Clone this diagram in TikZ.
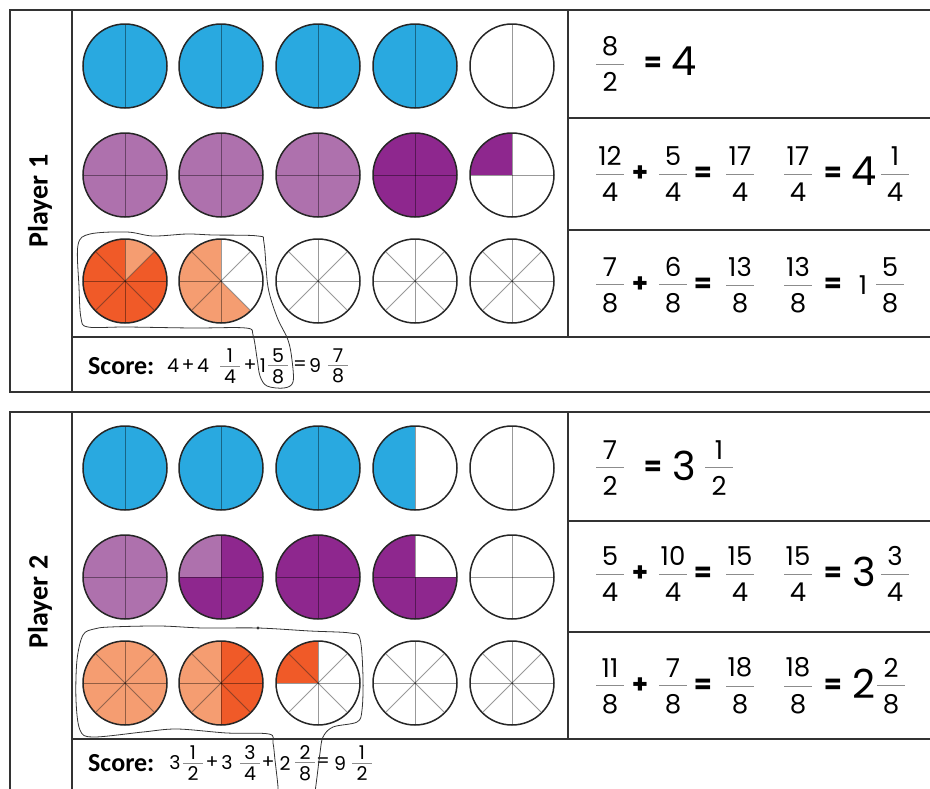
\documentclass[tikz,border=0pt]{standalone}
\usepackage{fontspec}
\newfontfamily\numfont{Poppins}
\newfontfamily\labfont{Carlito}
\usepackage{xcolor}
\definecolor{HalfBlue}{HTML}{29A9E0}
\definecolor{QuarterLight}{HTML}{AE71AD}
\definecolor{QuarterDark}{HTML}{8E278E}
\definecolor{EighthLight}{HTML}{F59D71}
\definecolor{EighthDark}{HTML}{F05A28}
\definecolor{BarGray}{HTML}{8C8C8C}
\usepackage{tikz}

% stacked fraction, grey bar
\newcommand{\fr}[3][.2em]{\shortstack{#2\\[#1]{\color{BarGray}\rule{1.05em}{.7pt}}\\[#1]#3}}
% fraction circle: centre, parts, colours (counter-clockwise from the top)
\newcommand{\wheel}[3]{%
  \foreach \c [count=\k] in {#3}
    \fill[\c] (#1) -- ++({90+(\k-1)*360/#2}:42) arc[start angle={90+(\k-1)*360/#2}, delta angle={360/#2}, radius=42] -- cycle;
  \foreach \k in {1,...,#2}
    \draw[spoke] (#1) -- ++({90+\k*360/#2}:42);
  \draw[rim] (#1) circle[radius=42];
}

\begin{document}
\begin{tikzpicture}[x=1pt,y=1pt,
    boxline/.style={draw=black!80,line width=1.4pt},
    rim/.style={draw=black!85,line width=1.5pt},
    spoke/.style={draw=black,draw opacity=0.4,line width=0.8pt},
    penline/.style={draw=black!80,line width=0.8pt},
    eqtext/.style={inner sep=0pt,font=\numfont\fontsize{26}{30}\selectfont},
    wholenum/.style={inner sep=0pt,font=\numfont\fontsize{40}{44}\selectfont},
    scoretext/.style={inner sep=0pt,font=\numfont\fontsize{19}{23}\selectfont},
    labtext/.style={inner sep=0pt,font=\labfont\bfseries\fontsize{26}{30}\selectfont}]
  \useasboundingbox (0,0) rectangle (930,-788);
  \clip (0,0) rectangle (930,-788);

  % player 1 board
  \draw[boxline] (935,-10) -| (10,-392) -- (935,-392);
  \draw[boxline] (72,-10) -- (72,-392);
  \draw[boxline] (72,-337) -- (935,-337);
  \draw[boxline] (568,-10) -- (568,-337);
  \draw[boxline] (568,-118) -- (935,-118) (568,-230) -- (935,-230);
  \node[labtext,rotate=90,font=\labfont\bfseries\fontsize{28}{32}\selectfont] (pl1) at (40,-201) {Player 1};

  \wheel{125,-66}{2}{HalfBlue,HalfBlue}
  \wheel{221,-66}{2}{HalfBlue,HalfBlue}
  \wheel{318,-66}{2}{HalfBlue,HalfBlue}
  \wheel{415,-66}{2}{HalfBlue,HalfBlue}
  \wheel{512,-66}{2}{white,white}
  \wheel{125,-175}{4}{QuarterLight,QuarterLight,QuarterLight,QuarterLight}
  \wheel{221,-175}{4}{QuarterLight,QuarterLight,QuarterLight,QuarterLight}
  \wheel{318,-175}{4}{QuarterLight,QuarterLight,QuarterLight,QuarterLight}
  \wheel{415,-175}{4}{QuarterDark,QuarterDark,QuarterDark,QuarterDark}
  \wheel{512,-175}{4}{QuarterDark,white,white,white}
  \wheel{125,-281}{8}{EighthDark,EighthDark,EighthDark,EighthDark,EighthDark,EighthDark,EighthDark,EighthLight}
  \wheel{221,-281}{8}{EighthLight,EighthLight,EighthLight,EighthLight,EighthLight,white,white,white}
  \wheel{318,-281}{8}{white,white,white,white,white,white,white,white}
  \wheel{415,-281}{8}{white,white,white,white,white,white,white,white}
  \wheel{512,-281}{8}{white,white,white,white,white,white,white,white}

  \foreach \x/\t [count=\i] in {610/{\fr{8}{2}},653/\textbf{=}}
    \node[eqtext] (a1-\i) at (\x,-64) {\t};
  \node[wholenum] (a1-w) at (684,-61) {4};
  \foreach \x/\t [count=\i] in {610/{\fr{12}{4}},640/\textbf{+},673/{\fr{5}{4}},703/\textbf{=},740/{\fr{17}{4}},798/{\fr{17}{4}},833/\textbf{=},895/{\fr{1}{4}}}
    \node[eqtext] (b1-\i) at (\x,-174) {\t};
  \node[wholenum] (b1-w) at (864,-171) {4};
  \foreach \x/\t [count=\i] in {610/{\fr{7}{8}},640/\textbf{+},673/{\fr{6}{8}},703/\textbf{=},740/{\fr{13}{8}},798/{\fr{13}{8}},833/\textbf{=},863/1,890/{\fr{5}{8}}}
    \node[eqtext] (c1-\i) at (\x,-285) {\t};

  \node[labtext,anchor=west] (sc1) at (88,-366) {Score:};
  \foreach \x/\t [count=\i] in {173/4,188/+,203/4,230/{\fr[0pt]{1}{4}},250/+,263/1,278/{\fr[0pt]{5}{8}},300/=,315/9,338/{\fr[0pt]{7}{8}}}
    \node[scoretext] (sc1-\i) at (\x,-366) {\t};

  \draw[penline] plot[smooth cycle,tension=0.55] coordinates {(78,-245) (90,-234) (127,-232) (153,-236) (187,-234) (213,-235) (258,-236) (264,-243) (268,-287) (277,-317) (288,-340) (292,-360) (293,-382) (284,-388) (267,-386) (260,-376) (257,-358) (253,-335) (246,-328) (193,-328) (127,-327) (88,-327) (81,-318) (79,-287)};

  % player 2 board
  \draw[boxline] (935,-412) -| (10,-800);
  \draw[boxline] (72,-412) -- (72,-800);
  \draw[boxline] (72,-739) -- (935,-739);
  \draw[boxline] (568,-412) -- (568,-739);
  \draw[boxline] (568,-521) -- (935,-521) (568,-632) -- (935,-632);
  \node[labtext,rotate=90,font=\labfont\bfseries\fontsize{28}{32}\selectfont] (pl2) at (40,-602) {Player 2};

  \wheel{125,-468}{2}{HalfBlue,HalfBlue}
  \wheel{221,-468}{2}{HalfBlue,HalfBlue}
  \wheel{318,-468}{2}{HalfBlue,HalfBlue}
  \wheel{415,-468}{2}{HalfBlue,white}
  \wheel{512,-468}{2}{white,white}
  \wheel{125,-577}{4}{QuarterLight,QuarterLight,QuarterLight,QuarterLight}
  \wheel{221,-577}{4}{QuarterLight,QuarterDark,QuarterDark,QuarterDark}
  \wheel{318,-577}{4}{QuarterDark,QuarterDark,QuarterDark,QuarterDark}
  \wheel{415,-577}{4}{QuarterDark,QuarterDark,QuarterDark,white}
  \wheel{512,-577}{4}{white,white,white,white}
  \wheel{125,-683}{8}{EighthLight,EighthLight,EighthLight,EighthLight,EighthLight,EighthLight,EighthLight,EighthLight}
  \wheel{221,-683}{8}{EighthLight,EighthLight,EighthLight,EighthLight,EighthDark,EighthDark,EighthDark,EighthDark}
  \wheel{318,-683}{8}{EighthDark,EighthDark,white,white,white,white,white,white}
  \wheel{415,-683}{8}{white,white,white,white,white,white,white,white}
  \wheel{512,-683}{8}{white,white,white,white,white,white,white,white}

  \foreach \x/\t [count=\i] in {610/{\fr{7}{2}},653/\textbf{=},719/{\fr{1}{2}}}
    \node[eqtext] (a2-\i) at (\x,-468) {\t};
  \node[wholenum] (a2-w) at (684,-466) {3};
  \foreach \x/\t [count=\i] in {610/{\fr{5}{4}},640/\textbf{+},673/{\fr{10}{4}},703/\textbf{=},740/{\fr{15}{4}},798/{\fr{15}{4}},833/\textbf{=},895/{\fr{3}{4}}}
    \node[eqtext] (b2-\i) at (\x,-574) {\t};
  \node[wholenum] (b2-w) at (864,-572) {3};
  \foreach \x/\t [count=\i] in {610/{\fr{11}{8}},640/\textbf{+},673/{\fr{7}{8}},703/\textbf{=},740/{\fr{18}{8}},798/{\fr{18}{8}},833/\textbf{=},891/{\fr{2}{8}}}
    \node[eqtext] (c2-\i) at (\x,-686) {\t};
  \node[wholenum] (c2-w) at (864,-684) {2};

  \node[labtext,anchor=west] (sc2) at (88,-763) {Score:};
  \foreach \x/\t [count=\i] in {175/3,193/{\fr[0pt]{1}{2}},212/+,227/3,250/{\fr[0pt]{3}{4}},268/+,285/2,305/{\fr[0pt]{2}{8}},323/=,340/9,362/{\fr[0pt]{1}{2}}}
    \node[scoretext] (sc2-\i) at (\x,-763) {\t};

  \draw[penline] plot[smooth,tension=0.55] coordinates {(278,-800) (278,-787) (275,-760) (273,-743) (269,-734) (227,-733) (177,-729) (143,-732) (93,-737) (80,-730) (76,-700) (77,-660) (83,-635) (94,-629) (110,-627) (160,-626) (203,-628) (258,-628) (310,-631) (350,-633) (360,-639) (363,-677) (362,-710) (357,-722) (333,-727) (323,-737) (320,-753) (317,-777) (314,-800)};
  \fill[black!80] (258,-628) circle[radius=1.7];
\end{tikzpicture}
\end{document}
